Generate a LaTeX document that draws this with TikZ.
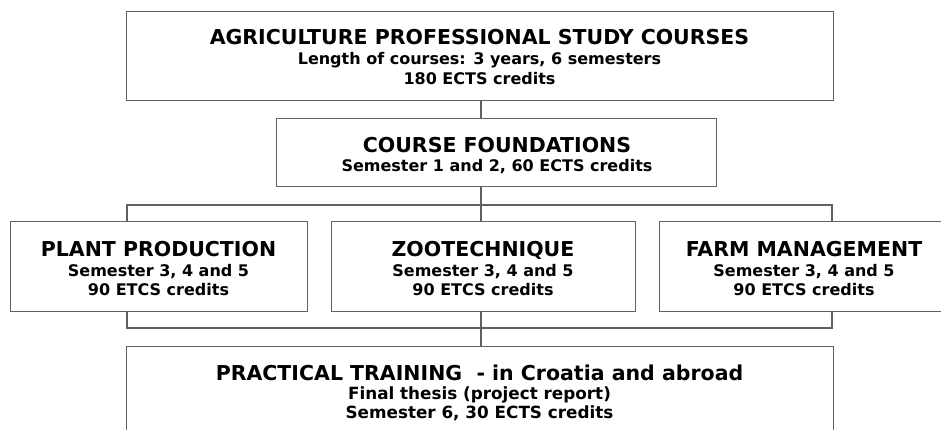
\documentclass[tikz,border=0pt]{standalone}
\usepackage{fontspec}
\setmainfont{DejaVu Sans}
\definecolor{linegray}{rgb}{0.38,0.38,0.38}
\begin{document}
\begin{tikzpicture}[x=1pt,y=-1pt,
  box/.style={draw=linegray,line width=1.3pt,fill=white,inner sep=0pt,anchor=north west},
  wire/.style={draw=linegray,line width=1.3pt},
  ttl/.style={font=\bfseries\fontsize{20.5}{24}\selectfont,inner sep=0pt,anchor=base},
  sub/.style={font=\bfseries\fontsize{16}{19}\selectfont,inner sep=0pt,anchor=base},
  subb/.style={font=\bfseries\fontsize{16.8}{19}\selectfont,inner sep=0pt,anchor=base},
]
\useasboundingbox (0,0) rectangle (941,430);
\clip (0,0) rectangle (941,430);
% boxes
\node[box,minimum width=707pt,minimum height=89pt] (top) at (126,11) {};
\node[box,minimum width=440pt,minimum height=68pt] (found) at (276,118) {};
\node[box,minimum width=297pt,minimum height=90pt] (plant) at (10,221) {};
\node[box,minimum width=304pt,minimum height=90pt] (zoo) at (331,221) {};
\node[box,minimum width=290pt,minimum height=90pt] (farm) at (659,221) {};
\node[box,minimum width=707pt,minimum height=100pt] (prac) at (126,346) {};
% texts
\node[ttl] (top1) at (479.5,44.5) {AGRICULTURE PROFESSIONAL STUDY COURSES};
\node[sub] (top2) at (479.5,65) {Length of courses: 3 years, 6 semesters};
\node[sub] (top3) at (479.5,85) {180 ECTS credits};
\node[ttl] (found1) at (497,152.5) {COURSE FOUNDATIONS};
\node[sub] (found2) at (497,172) {Semester 1 and 2, 60 ECTS credits};
\foreach \b/\x/\t in {plant/158.5/PLANT PRODUCTION, zoo/483/ZOOTECHNIQUE, farm/804/FARM MANAGEMENT}{
  \node[ttl] (\b1) at (\x,256) {\t};
  \node[sub] (\b2) at (\x,276) {Semester 3, 4 and 5};
  \node[sub] (\b3) at (\x,295.5) {90 ETCS credits};
}
\node[ttl] (prac1) at (479.5,380) {PRACTICAL TRAINING\ \ - in Croatia and abroad};
\node[subb] (prac2) at (479.5,399) {Final thesis (project report)};
\node[subb] (prac3) at (479.5,418.5) {Semester 6, 30 ECTS credits};
% connector coordinates
\coordinate (h1) at (481,205);
\coordinate (h2) at (481,328);
\coordinate (lx) at (127,0);
\coordinate (rx) at (832,0);
% connectors
\draw[wire] (top.south -| h1) -- (found.north -| h1);
\draw[wire] (found.south -| h1) -- (zoo.north -| h1);
\draw[wire] (plant.north -| lx) -- (lx |- h1) -- (rx |- h1) -- (farm.north -| rx);
\draw[wire] (plant.south -| lx) -- (lx |- h2) -- (rx |- h2) -- (farm.south -| rx);
\draw[wire] (zoo.south -| h2) -- (prac.north -| h2);
\end{tikzpicture}
\end{document}
